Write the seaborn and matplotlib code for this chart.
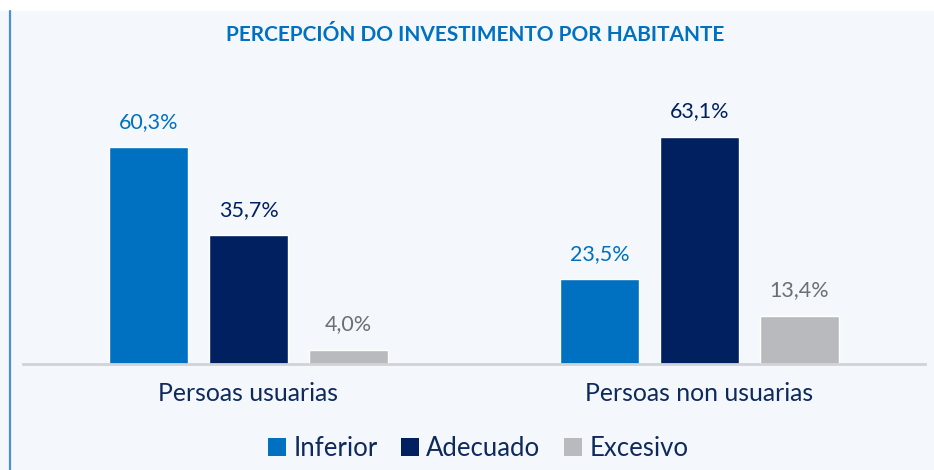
import numpy as np
import pandas as pd
import matplotlib
matplotlib.use("Agg")
import matplotlib.pyplot as plt
from matplotlib.patches import Rectangle, Patch
from matplotlib.lines import Line2D
import seaborn as sns

# data
categories = ["Persoas usuarias", "Persoas non usuarias"]
levels = ["Inferior", "Adecuado", "Excesivo"]
inferior = [60.3, 23.5]
adecuado = [35.7, 63.1]
excesivo = [4.0, 13.4]
title = "PERCEPCIÓN DO INVESTIMENTO POR HABITANTE"

colors = ["#0070C0", "#002060", "#B8BABD"]
label_colors = ["#0070C0", "#002060", "#6B6E72"]
navy = "#0E2A5C"
panel_bg = "#F4F8FC"

df = pd.DataFrame({
    "grupo": categories * 3,
    "nivel": [lv for lv in levels for _ in categories],
    "valor": inferior + adecuado + excesivo,
})

sns.set_theme(style="white")
plt.rcParams["font.family"] = ["Lato", "DejaVu Sans"]

fig = plt.figure(figsize=(9.34, 4.70), dpi=100)
W, H = 934, 470

# panel background and left accent line
fig.patches.append(Rectangle((0, 0), 1, 1 - 11 / H, transform=fig.transFigure,
                             facecolor=panel_bg, edgecolor="none", zorder=-10))
fig.lines.append(Line2D([9.5 / W, 9.5 / W], [0, 1 - 11 / H], transform=fig.transFigure,
                        color="#4A90D9", lw=1.6))

ax = fig.add_axes([23 / W, 1 - 364 / H, 902 / W, 288 / H])
ax.set_facecolor("none")

sns.barplot(data=df, x="grupo", y="valor", hue="nivel", order=categories,
            hue_order=levels, palette=colors, width=0.665, gap=0.21,
            saturation=1, legend=False, ax=ax)

for cont, c in zip(ax.containers, label_colors):
    ax.bar_label(cont, labels=[f"{v:.1f}".replace(".", ",") + "%" for v in cont.datavalues],
                 padding=11, color=c, fontsize=15.5)

ax.set_xlim(-0.5, 1.5)
ax.set_ylim(0, 80)
ax.set_xlabel("")
ax.set_ylabel("")
ax.set_yticks([])
for s in ["left", "right", "top"]:
    ax.spines[s].set_visible(False)
ax.spines["bottom"].set_color("#D0D3D7")
ax.spines["bottom"].set_linewidth(2)
ax.tick_params(axis="x", length=0, pad=13, labelsize=17.8, labelcolor=navy)

fig.text(475 / W, 1 - 35 / H, title, ha="center", va="center",
         color="#0070C0", fontsize=15, fontweight="bold")

handles = [Patch(facecolor=c, edgecolor="none", label=l) for c, l in zip(colors, levels)]
fig.legend(handles=handles, loc="center", bbox_to_anchor=(478 / W, 1 - 448 / H),
           ncol=3, frameon=False, fontsize=18.5, labelcolor=navy,
           handlelength=0.7, handleheight=0.7, handletextpad=0.3, columnspacing=0.9)

fig.savefig("out.png", dpi=100, facecolor="white")
